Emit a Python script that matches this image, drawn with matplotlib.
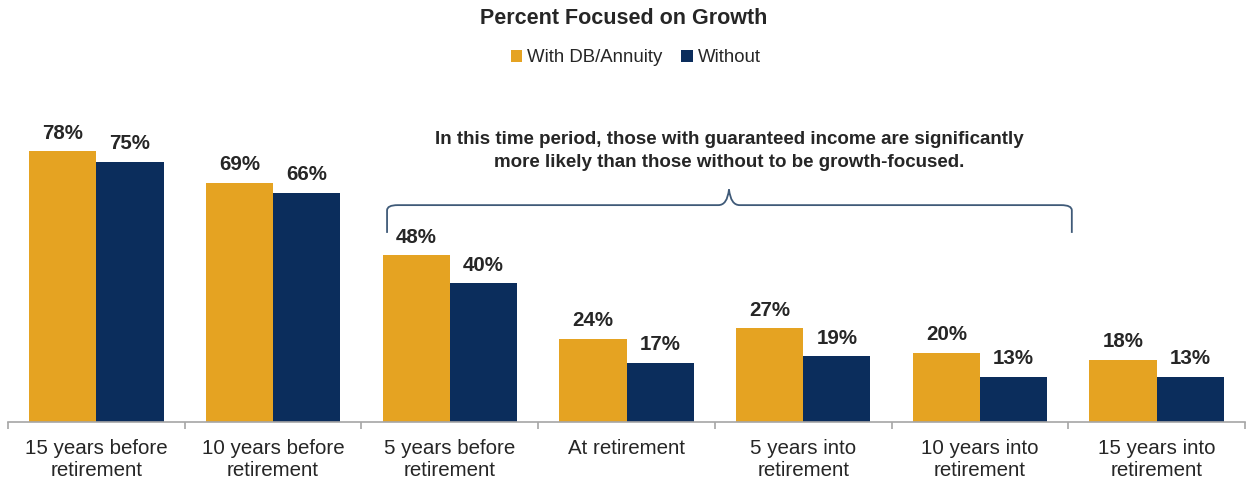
import matplotlib
matplotlib.use("Agg")
import matplotlib.pyplot as plt
from matplotlib.path import Path
from matplotlib.patches import PathPatch
import numpy as np

categories = ["15 years before\nretirement", "10 years before\nretirement", "5 years before\nretirement",
              "At retirement", "5 years into\nretirement", "10 years into\nretirement", "15 years into\nretirement"]
with_db = [78, 69, 48, 24, 27, 20, 18]
without = [75, 66, 40, 17, 19, 13, 13]
series_names = ["With DB/Annuity", "Without"]
title = "Percent Focused on Growth"
note = "In this time period, those with guaranteed income are significantly\nmore likely than those without to be growth-focused."

GOLD = "#E5A322"
NAVY = "#0B2D5C"
TXT = "#262626"

plt.rcParams['font.family'] = ['Liberation Sans', 'DejaVu Sans']

fig = plt.figure(figsize=(12.47, 4.82), dpi=100)
ax = fig.add_axes([8/1247, 60/482, 1237/1247, 347/482])

x = np.arange(len(categories))
w = 0.38
b1 = ax.bar(x - w/2, with_db, w, color=GOLD, label=series_names[0])
b2 = ax.bar(x + w/2, without, w, color=NAVY, label=series_names[1])

for rects, vals in ((b1, with_db), (b2, without)):
    for r, v in zip(rects, vals):
        ax.annotate(f"{v}%", (r.get_x() + r.get_width()/2, v), xytext=(0, 13),
                    textcoords="offset points", ha="center", va="center",
                    fontsize=14.8, fontweight="bold", color=TXT)

ax.set_xlim(-0.5, len(categories) - 0.5)
ax.set_ylim(0, 100)
ax.set_yticks([])
for s in ("left", "right", "top"):
    ax.spines[s].set_visible(False)
ax.spines["bottom"].set_color("#A6A6A6")
ax.spines["bottom"].set_linewidth(1.2)

ax.set_xticks(x)
ax.set_xticklabels(categories, fontsize=14.8, color=TXT, linespacing=1.2)
ax.tick_params(axis="x", length=0, pad=12)
ax.set_xticks(np.arange(len(categories) + 1) - 0.5, minor=True)
ax.tick_params(axis="x", which="minor", length=5, color="#A6A6A6", width=1.2)

# bracket
xl, xr, xm = 1.645, 5.52, 3.58
yb, yh, yp = 54.5, 62.5, 67.0
r = 0.06
verts = [(xl, yb), (xl, yh - 1.5), (xl, yh), (xl + r, yh),
         (xm - 0.06, yh), (xm - 0.01, yh), (xm, yp),
         (xm + 0.01, yh), (xm + 0.06, yh),
         (xr - r, yh), (xr, yh), (xr, yh - 1.5), (xr, yb)]
codes = [Path.MOVETO, Path.LINETO, Path.CURVE3, Path.CURVE3,
         Path.LINETO, Path.CURVE3, Path.CURVE3,
         Path.CURVE3, Path.CURVE3,
         Path.LINETO, Path.CURVE3, Path.CURVE3, Path.LINETO]
ax.add_patch(PathPatch(Path(verts, codes), fill=False, edgecolor="#3F5A78", lw=1.3, clip_on=False))

ax.text(xm, 78.1, note, ha="center", va="center", fontsize=13.5, fontweight="bold",
        color=TXT, linespacing=1.45)

fig.text(0.5, 1 - 19/482, title, ha="center", va="center", fontsize=15.5, fontweight="bold", color=TXT)
fig.legend(handles=[b1, b2], labels=series_names, loc="center", bbox_to_anchor=(0.51, 1 - 58/482),
           ncol=2, frameon=False, fontsize=13.4, handlelength=0.6, handleheight=0.6,
           handletextpad=0.3, columnspacing=1.0, labelcolor=TXT)

fig.savefig("out.png", dpi=100)
